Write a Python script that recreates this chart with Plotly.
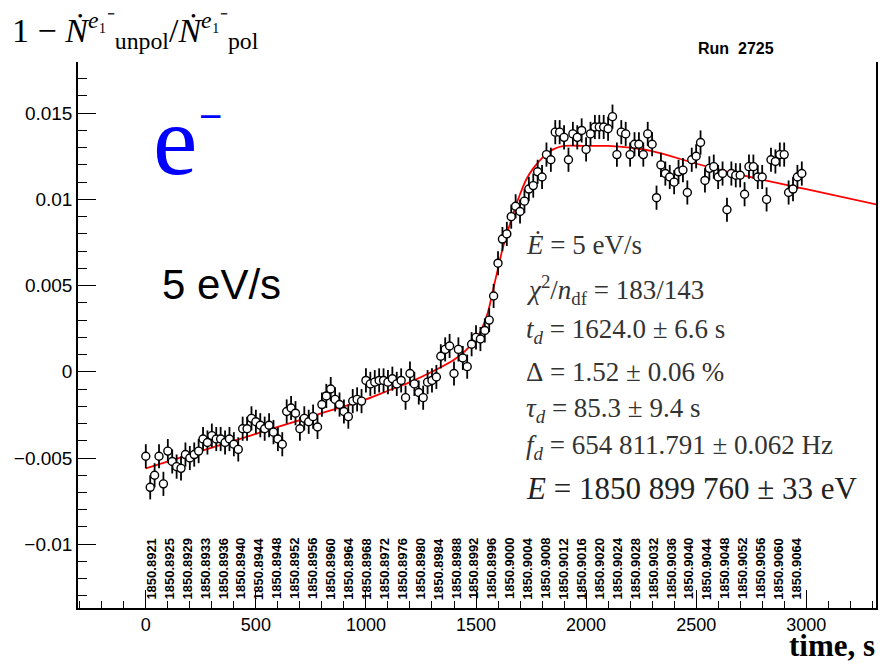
import plotly.graph_objects as go

# ---- data ----
times = [0, 20, 40, 60, 80, 100, 120, 140, 160, 180, 200, 220, 240, 260, 280, 300, 320, 340, 360, 380,
         400, 420, 440, 460, 480, 500, 520, 540, 560, 580, 600, 620, 640, 660, 680, 700, 720, 740, 760, 780,
         800, 820, 840, 860, 880, 900, 920, 940, 960, 980, 1000, 1020, 1040, 1060, 1080, 1100, 1120, 1140, 1160, 1180,
         1200, 1220, 1240, 1260, 1280, 1300, 1320, 1340, 1360, 1380, 1400, 1420, 1440, 1460, 1480, 1500, 1520, 1540, 1560, 1580,
         1600, 1620, 1640, 1660, 1680, 1700, 1720, 1740, 1760, 1780, 1800, 1820, 1840, 1860, 1880, 1900, 1920, 1940, 1960, 1980,
         2000, 2020, 2040, 2060, 2080, 2100, 2120, 2140, 2160, 2180, 2200, 2220, 2240, 2260, 2280, 2300, 2320, 2340, 2360, 2380,
         2400, 2420, 2440, 2460, 2480, 2500, 2520, 2540, 2560, 2580, 2600, 2620, 2640, 2660, 2680, 2700, 2720, 2740, 2760, 2780,
         2800, 2820, 2840, 2860, 2880, 2900, 2920, 2940, 2960, 2980]
asym = [-0.0049, -0.0067, -0.0060, -0.0049, -0.0065, -0.0046, -0.0052, -0.0055, -0.0056, -0.0048,
        -0.0050, -0.0048, -0.0046, -0.0039, -0.0041, -0.0037, -0.0039, -0.0039, -0.0041, -0.0039,
        -0.0042, -0.0045, -0.0033, -0.0033, -0.0027, -0.0029, -0.0031, -0.0033, -0.0031, -0.0035,
        -0.0039, -0.0042, -0.0023, -0.0021, -0.0024, -0.0033, -0.0027, -0.0029, -0.0026, -0.0032,
        -0.0019, -0.0014, -0.0010, -0.0016, -0.0019, -0.0023, -0.0026, -0.0017, -0.0016, -0.0017,
        -0.0005, -0.0007, -0.0006, -0.0005, -0.0005, -0.0006, -0.0004, -0.0007, -0.0005, -0.0015,
        -0.0001, -0.0007, -0.0012, -0.0015, -0.0006, -0.0005, -0.0003, 0.0009, 0.0013, 0.0015,
        -0.0001, 0.0013, 0.0008, 0.0003, 0.0016, 0.0020, 0.0019, 0.0024, 0.0030, 0.0044,
        0.0063, 0.0077, 0.0080, 0.0090, 0.0096, 0.0093, 0.0099, 0.0106, 0.0108, 0.0116,
        0.0113, 0.0126, 0.0123, 0.0139, 0.0139, 0.0136, 0.0123, 0.0138, 0.0136, 0.0140,
        0.0129, 0.0138, 0.0142, 0.0142, 0.0142, 0.0141, 0.0148, 0.0126, 0.0139, 0.0138,
        0.0126, 0.0132, 0.0132, 0.0126, 0.0138, 0.0132, 0.0101, 0.0120, 0.0115, 0.0113,
        0.0110, 0.0116, 0.0117, 0.0104, 0.0123, 0.0125, 0.0133, 0.0111, 0.0118, 0.0119,
        0.0113, 0.0115, 0.0094, 0.0115, 0.0114, 0.0114, 0.0103, 0.0119, 0.0119, 0.0113,
        0.0113, 0.0100, 0.0123, 0.0122, 0.0126, 0.0126, 0.0104, 0.0106, 0.0113, 0.0115]
asym_err = [0.0007] * len(asym)

fit_t = [0, 200, 400, 600, 800, 1000, 1100, 1200, 1300, 1400, 1450, 1500, 1530, 1555, 1580, 1600, 1620,
         1640, 1660, 1680, 1700, 1730, 1760, 1800, 1850, 1900, 2000, 2100, 2200, 2300, 2550, 2850, 3000, 3320]
fit_v = [-0.0056, -0.0048, -0.0040, -0.0032, -0.0024, -0.0016, -0.0011, -0.0006, 0.0000, 0.0007, 0.0012,
         0.0019, 0.0026, 0.0035, 0.0049, 0.0060, 0.0071, 0.0080, 0.0088, 0.0096, 0.0103, 0.0112, 0.0118,
         0.0124, 0.0129, 0.0131, 0.0131, 0.0131, 0.0130, 0.0128, 0.0119, 0.0110, 0.0106, 0.0097]

energy_t = [27, 108, 190, 271, 353, 434, 515, 597, 678, 760, 841, 922, 1004, 1085, 1167, 1248, 1329, 1411,
            1492, 1574, 1655, 1736, 1818, 1899, 1981, 2062, 2143, 2225, 2306, 2388, 2469, 2550, 2632, 2713,
            2795, 2876, 2957]
energy_labels = ["1850.8921", "1850.8925", "1850.8929", "1850.8933", "1850.8936", "1850.8940", "1850.8944",
                 "1850.8948", "1850.8952", "1850.8956", "1850.8960", "1850.8964", "1850.8968", "1850.8972",
                 "1850.8976", "1850.8980", "1850.8984", "1850.8988", "1850.8992", "1850.8996", "1850.9000",
                 "1850.9004", "1850.9008", "1850.9012", "1850.9016", "1850.9020", "1850.9024", "1850.9028",
                 "1850.9032", "1850.9036", "1850.9040", "1850.9044", "1850.9048", "1850.9052", "1850.9056",
                 "1850.9060", "1850.9064"]
energy_label_y = -0.01143

S = "&nbsp;"
stats_lines = [
    f"<i>Ė</i>{S}={S}5{S}eV/s",
    f"<i>χ</i><sup>2</sup>/<i>n</i><sub>df</sub>{S}={S}183/143",
    f"<i>t<sub>d</sub></i>{S}={S}1624.0{S}±{S}6.6{S}s",
    f"Δ{S}={S}1.52{S}±{S}0.06{S}%",
    f"<i>τ<sub>d</sub></i>{S}={S}85.3{S}±{S}9.4{S}s",
    f"<i>f<sub>d</sub></i>{S}={S}654 811.791{S}±{S}0.062{S}Hz",
]
stats_last = f"<i>E</i>{S}={S}1850 899 760{S}±{S}33{S}eV"

X_RANGE = [-308, 3317]
Y_RANGE = [-0.0137, 0.01797]

# plot-area geometry in pixels (for placing free texts in paper coordinates)
L, R, T, B = 78, 878, 62, 608
def px(xp):
    return (xp - L) / (R - L)
def py(yp):
    return (B - yp) / (B - T)

fig = go.Figure()

fig.add_trace(go.Scatter(
    x=fit_t, y=fit_v, mode="lines", line=dict(color="red", width=1.8, shape="spline"),
    showlegend=False, hoverinfo="skip"))

fig.add_trace(go.Scatter(
    x=times, y=asym, mode="markers",
    marker=dict(symbol="circle", size=8, color="white", line=dict(color="black", width=1.4)),
    error_y=dict(type="data", array=asym_err, visible=True, color="black", thickness=1.8, width=0),
    showlegend=False))

annotations = []
for t, lab in zip(energy_t, energy_labels):
    annotations.append(dict(x=t, y=energy_label_y, xref="x", yref="y", text=f"<b>{lab}</b>", showarrow=False,
                            textangle=-90, xanchor="center", yanchor="middle",
                            font=dict(family="Liberation Sans", size=13, color="black")))

ys_px = [245, 290, 331, 372, 410, 447]
for txt, yp in zip(stats_lines, ys_px):
    annotations.append(dict(x=px(525), y=py(yp), xref="paper", yref="paper", text=txt,
                            showarrow=False, xanchor="left", yanchor="middle",
                            font=dict(family="Liberation Serif", size=27, color="#333333")))
annotations.append(dict(x=px(525), y=py(488), xref="paper", yref="paper", text=stats_last,
                        showarrow=False, xanchor="left", yanchor="middle",
                        font=dict(family="Liberation Serif", size=31, color="#222222")))

# e- label
annotations.append(dict(x=px(151), y=py(140), xref="paper", yref="paper", text="e",
                        showarrow=False, xanchor="left", yanchor="middle",
                        font=dict(family="Liberation Serif", size=100, color="blue")))
annotations.append(dict(x=px(211), y=py(116), xref="paper", yref="paper", text="−",
                        showarrow=False, xanchor="center", yanchor="middle",
                        font=dict(family="Liberation Sans", size=40, color="blue")))
# 5 eV/s
annotations.append(dict(x=px(160), y=py(284), xref="paper", yref="paper", text="5 eV/s",
                        showarrow=False, xanchor="left", yanchor="middle",
                        font=dict(family="Liberation Sans", size=42, color="black")))
# y-axis title at top-left
annotations.append(dict(x=px(10), y=py(31), xref="paper", yref="paper",
                        text="1 − <i>Ṅ</i><sup><i>e</i>₁⁻</sup><sub>unpol</sub>/<i>Ṅ</i><sup><i>e</i>₁⁻</sup><sub>pol</sub>",
                        showarrow=False, xanchor="left", yanchor="middle",
                        font=dict(family="Liberation Serif", size=34, color="black")))
# run label
annotations.append(dict(x=px(778), y=py(48), xref="paper", yref="paper", text="<b>Run  2725</b>",
                        showarrow=False, xanchor="right", yanchor="middle",
                        font=dict(family="Liberation Sans", size=16, color="black")))
# x title
annotations.append(dict(x=px(878), y=py(664), xref="paper", yref="paper", text="<b>time, s</b>",
                        showarrow=False, xanchor="right", yanchor="bottom", borderpad=0,
                        font=dict(family="Liberation Serif", size=31, color="black")))

fig.update_layout(
    width=884, height=664,
    margin=dict(l=L, r=884 - R, t=T, b=664 - B),
    paper_bgcolor="white", plot_bgcolor="white",
    font=dict(family="Liberation Sans", color="black"),
    annotations=annotations,
    showlegend=False,
)
fig.update_xaxes(range=X_RANGE, showgrid=False, zeroline=False, showline=True, linecolor="black",
                 linewidth=1.5, mirror=False, ticks="inside", ticklen=18, tickwidth=1.2, tickcolor="black",
                 tick0=0, dtick=500, tickfont=dict(size=18, family="Liberation Sans"),
                 minor=dict(dtick=100, ticks="inside", ticklen=7, tickcolor="black", tickwidth=1))
fig.update_yaxes(range=Y_RANGE, showgrid=False, zeroline=False, showline=True, linecolor="black",
                 linewidth=1.5, mirror=True, ticks="inside", ticklen=18, tickwidth=1.2, tickcolor="black",
                 tick0=0, dtick=0.005, tickfont=dict(size=19, family="Liberation Sans"),
                 minor=dict(dtick=0.001, ticks="inside", ticklen=9, tickcolor="black", tickwidth=1))

fig.write_html("out.html")
